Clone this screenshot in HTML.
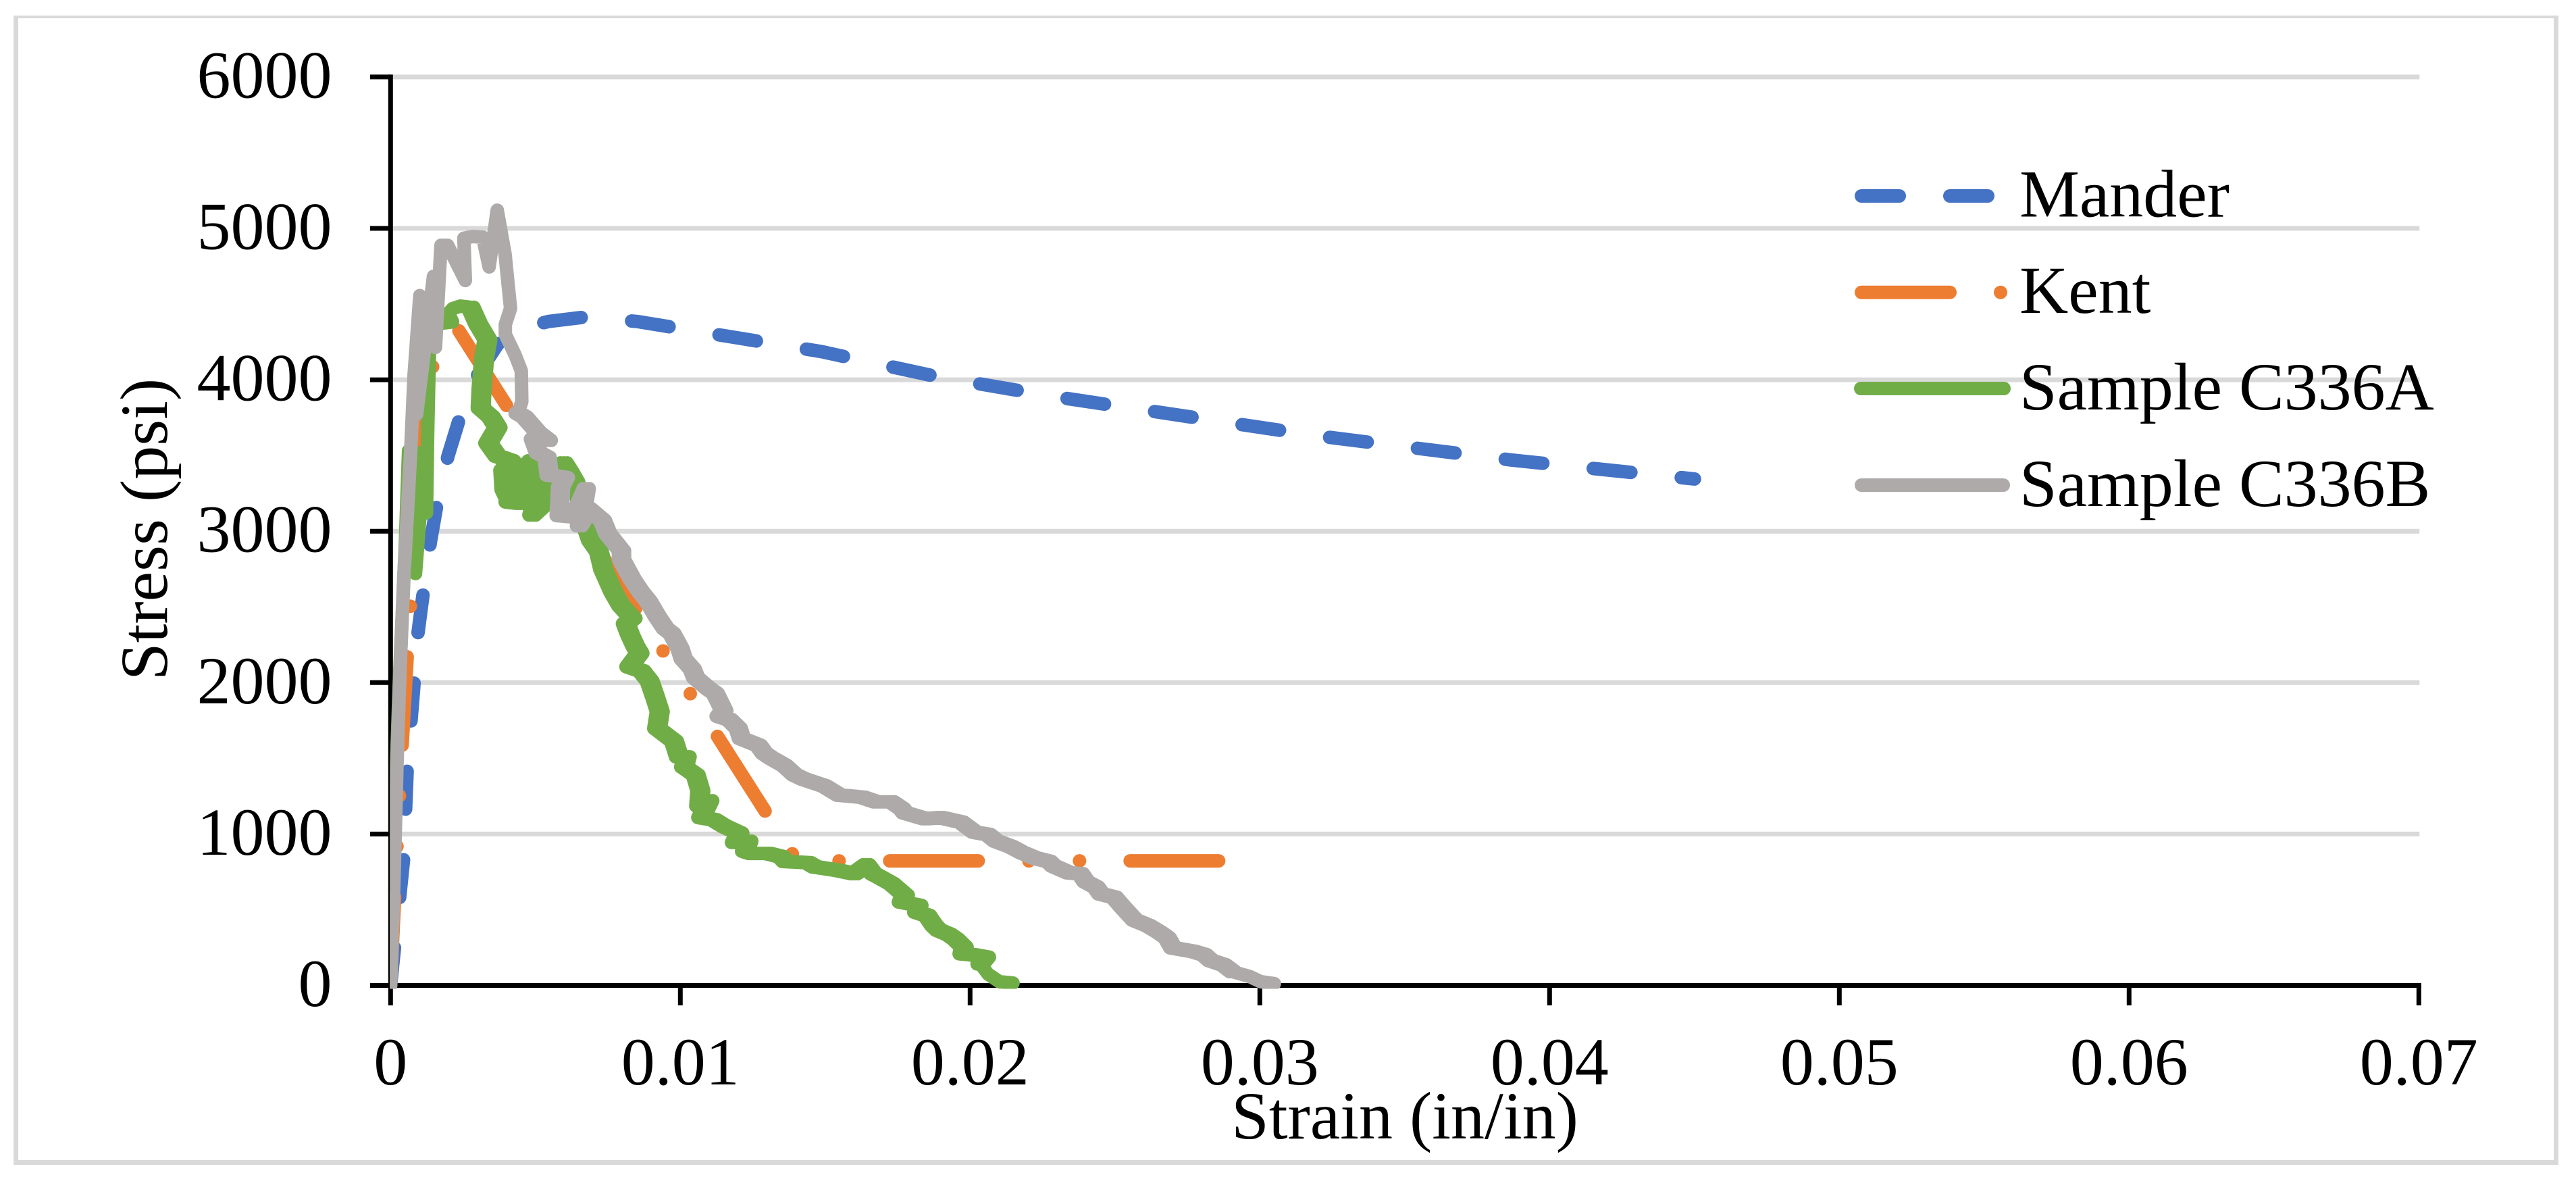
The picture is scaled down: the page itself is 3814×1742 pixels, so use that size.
<!DOCTYPE html>
<html lang="en">
<head>
<meta charset="utf-8">
<title>Stress-strain chart</title>
<style>
html,body{margin:0;padding:0;background:#fff;}
svg{display:block;}
text{font-family:"Liberation Serif","Times New Roman",serif;font-size:100px;fill:#000;}
</style>
</head>
<body>
<svg id="chart" xmlns="http://www.w3.org/2000/svg" width="3814" height="1742" viewBox="0 0 3814 1742">
<rect x="0" y="0" width="3814" height="1742" fill="#fff"/>
<g fill="#D9D9D9">
<rect x="20" y="23" width="3768" height="4"/>
<rect x="20" y="1717" width="3768" height="7"/>
<rect x="20" y="23" width="7" height="1701"/>
<rect x="3781" y="23" width="7" height="1701"/>
</g>
<defs><clipPath id="plot-clip"><rect x="577.3" y="90" width="3010" height="1373.5"/></clipPath></defs>
<g id="grid"></g>
<g id="axes"></g>
<g id="series" clip-path="url(#plot-clip)" fill="none" stroke-width="20" stroke-linecap="round" stroke-linejoin="round"></g>
<text transform="translate(247,1007) rotate(-90)">Stress (psi)</text>
<text x="2080" y="1685" text-anchor="middle">Strain (in/in)</text>
<g fill="none" stroke-width="20" stroke-linecap="round">
<line x1="2756" y1="290" x2="2943" y2="290" stroke="#4472C4" stroke-dasharray="56 75"/>
<text x="2990" y="320.5" stroke="none">Mander</text>
<line x1="2756" y1="432.7" x2="2963" y2="432.7" stroke="#ED7D31" stroke-dasharray="131 75 0 75 0 75"/>
<text x="2990" y="463" stroke="none">Kent</text>
<line x1="2755" y1="575" x2="2967" y2="575" stroke="#70AD47"/>
<text x="2990" y="606" stroke="none">Sample C336A</text>
<line x1="2756" y1="718" x2="2966" y2="718" stroke="#AEAAAA"/>
<text x="2990" y="749" stroke="none">Sample C336B</text>
</g>
</svg>
<script>
const xTicks = [0, 0.01, 0.02, 0.03, 0.04, 0.05, 0.06, 0.07];
const xTickLabels = ["0", "0.01", "0.02", "0.03", "0.04", "0.05", "0.06", "0.07"];
const yTicks = [0, 1000, 2000, 3000, 4000, 5000, 6000];
const yTickLabels = ["0", "1000", "2000", "3000", "4000", "5000", "6000"];

const manderStrain = [0,.00047,.00051,.00058,.00069,.00082,.00095,.00112,.00137,.0016,.00198,.00238,.003,.0037,.0045,.00545,.00675,.0085,.0098,.01487,.0188,.0228,.0319,.0387,.045];
const manderStress = [0,875,1125,1464,1711,2020,2335,2580,2925,3175,3495,3745,4030,4235,4340,4385,4415,4385,4345,4186,4023,3892,3632,3470,3345];

const kentStrain = [0,.0002,.0004,.0006,.0008,.001,.0012,.0014,.0016,.0018,.0024,.002,.01402,.03];
const kentStress = [0,842,1595,2260,2835,3322,3720,4029,4252,4386,4475,4431,823,823];

const c336aStrain = [0,.00013,.0002,.0003,.00051,.00062,.00086,.00102,.00093,.00124,.00128,.00134,.00144,.00214,.002,.00214,.00241,.00276,.00302,.00334,.00323,.00314,.00311,.00346,.00369,.00337,.00369,.00416,.00389,.00393,.00412,.00435,.00407,.00447,.00454,.00486,.00517,.00489,.00535,.00528,.00568,.00598,.00617,.00637,.00652,.00668,.00692,.00719,.00734,.00769,.00796,.00835,.00812,.00827,.00845,.00859,.00824,.00866,.00894,.00913,.00929,.0092,.00978,.00995,.01022,.01013,.01053,.01069,.01065,.011,.01072,.01115,.01153,.01204,.01188,.01235,.01223,.01246,.01302,.01348,.01363,.01441,.01465,.01542,.016,.01643,.01666,.01682,.01729,.01775,.01764,.01822,.01817,.01852,.01876,.01892,.01927,.0195,.01978,.01974,.02008,.02055,.02036,.02062,.02101,.02148];
const c336aStress = [0,1002,1443,2001,2920,3531,2720,3117,3518,3121,3652,4187,4366,4382,4440,4470,4487,4479,4368,4265,4147,3942,3813,3755,3685,3582,3496,3465,3402,3275,3198,3277,3193,3184,3398,3465,3362,3107,3188,3384,3273,3451,3393,3326,3228,3072,2938,2864,2746,2596,2507,2425,2389,2313,2239,2194,2105,2077,2010,1903,1809,1698,1613,1510,1510,1443,1390,1287,1185,1220,1109,1095,1051,1006,944,953,886,872,872,850,819,811,783,761,738,797,738,722,672,596,551,529,484,462,395,365,337,306,253,209,203,187,142,75,25,16];

const c336bStrain = [0,.00008,.00016,.00022,.00031,.00046,.00053,.00069,.00081,.00101,.0009,.00148,.00155,.00174,.00197,.00258,.00253,.00284,.00318,.0034,.00368,.00395,.00414,.00396,.00396,.0043,.00451,.00453,.0044,.00462,.00509,.00544,.00493,.0051,.0054,.00547,.00603,.00587,.00582,.00633,.00675,.00664,.00652,.00684,.00731,.0075,.00797,.00797,.00835,.00862,.0089,.0092,.00948,.00971,.00999,.0101,.01041,.01053,.011,.0112,.0115,.01134,.01169,.012,.01211,.0127,.0129,.01313,.0136,.01395,.01426,.01496,.01549,.01628,.01675,.01729,.01764,.01775,.01845,.01899,.01969,.02016,.02062,.0209,.02141,.02179,.02225,.02272,.02288,.02342,.02381,.024,.02435,.02451,.02498,.02528,.02568,.02615,.02654,.0268,.027,.0277,.02808,.02831,.02875,.02906,.02964,.03003,.0305];
const c336bStress = [0,448,1002,1443,2001,2715,2938,3513,4027,4556,3773,4683,4214,4888,4888,4656,4935,4946,4942,4745,5120,4830,4471,4366,4299,4163,4060,3857,3779,3755,3652,3600,3608,3519,3488,3371,3354,3295,3103,3094,3281,3148,3036,3148,3072,2983,2871,2813,2679,2603,2536,2438,2358,2323,2224,2157,2090,2032,1956,1930,1815,1778,1756,1698,1631,1586,1533,1503,1452,1391,1363,1318,1257,1243,1213,1213,1168,1140,1101,1109,1079,1012,997,953,917,878,841,819,789,744,738,685,649,605,582,515,432,395,350,315,248,225,203,164,136,91,60,25,12];

const SVGNS = "http://www.w3.org/2000/svg";
const sx = function (v) { return 578.3 + v * 42900; };
const sy = function (v) { return 1458.5 - v * 0.2241; };
const gridG = document.getElementById("grid");
const axesG = document.getElementById("axes");
const seriesG = document.getElementById("series");

function mkLine(x1, y1, x2, y2, color, w) {
  const l = document.createElementNS(SVGNS, "line");
  l.setAttribute("x1", x1); l.setAttribute("y1", y1);
  l.setAttribute("x2", x2); l.setAttribute("y2", y2);
  l.setAttribute("stroke", color); l.setAttribute("stroke-width", w);
  return l;
}
function mkText(x, y, anchor, str) {
  const t = document.createElementNS(SVGNS, "text");
  t.setAttribute("x", x); t.setAttribute("y", y);
  t.setAttribute("text-anchor", anchor);
  t.textContent = str;
  return t;
}

yTicks.forEach(function (v, i) {
  if (v > 0) {
    const g = mkLine(sx(0), sy(v), sx(0.07) + 1, sy(v), "#D9D9D9", 7);
    
    
    gridG.appendChild(g);
  }
  const t = mkLine(548, sy(v), sx(0), sy(v), "#000", 7);
  
  
  axesG.appendChild(t);
  const lab = mkText(491.5, sy(v) + 30.5, "end", yTickLabels[i]);
  
  
  axesG.appendChild(lab);
});

const yAxisLine = mkLine(sx(0), sy(6000) - 3.5, sx(0), sy(0), "#000", 7);


axesG.appendChild(yAxisLine);

const xAxisLine = mkLine(sx(0), sy(0), sx(0.07) + 3.5, sy(0), "#000", 7);


axesG.appendChild(xAxisLine);

xTicks.forEach(function (v, i) {
  const t = mkLine(sx(v), sy(0), sx(v), 1488, "#000", 7);
  
  
  axesG.appendChild(t);
  const lab = mkText(sx(v), 1605, "middle", xTickLabels[i]);
  
  
  axesG.appendChild(lab);
});

function pathFrom(xs, ys, dx) {
  return xs.map(function (x, i) {
    return (i ? "L" : "M") + (sx(x) + dx).toFixed(1) + " " + sy(ys[i]).toFixed(1);
  }).join(" ");
}

const manderPath = document.createElementNS(SVGNS, "path");


manderPath.setAttribute("d", pathFrom(manderStrain, manderStress, 0));
manderPath.setAttribute("stroke", "#4472C4");
manderPath.setAttribute("stroke-dasharray", "56 75");
seriesG.appendChild(manderPath);

const kentPath = document.createElementNS(SVGNS, "path");


kentPath.setAttribute("d", pathFrom(kentStrain, kentStress, 0));
kentPath.setAttribute("stroke", "#ED7D31");
kentPath.setAttribute("stroke-dasharray", "131 75 0 75 0 75");
seriesG.appendChild(kentPath);

const c336aPath = document.createElementNS(SVGNS, "path");


c336aPath.setAttribute("d", pathFrom(c336aStrain, c336aStress, 0) + " " +
  pathFrom(c336aStrain.slice(17, -3), c336aStress.slice(17, -3), 5) + " " +
  pathFrom(c336aStrain.slice(17, -3), c336aStress.slice(17, -3), -5));
c336aPath.setAttribute("stroke", "#70AD47");
seriesG.appendChild(c336aPath);

const c336bPath = document.createElementNS(SVGNS, "path");


c336bPath.setAttribute("d", pathFrom(c336bStrain, c336bStress, 0) + " " +
  pathFrom(c336bStrain.slice(28, -3), c336bStress.slice(28, -3), 4.5) + " " +
  pathFrom(c336bStrain.slice(28, -3), c336bStress.slice(28, -3), -4.5));
c336bPath.setAttribute("stroke", "#AEAAAA");
seriesG.appendChild(c336bPath);
</script>
</body>
</html>
